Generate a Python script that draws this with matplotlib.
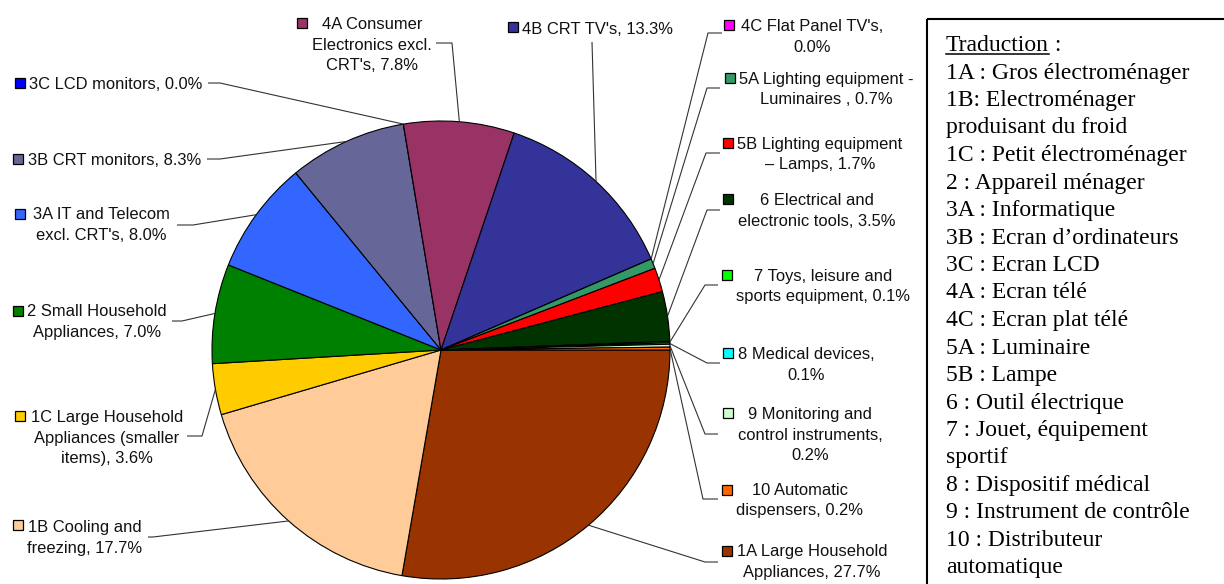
import matplotlib
matplotlib.use("Agg")
import matplotlib.pyplot as plt
import numpy as np
from matplotlib.patches import Rectangle

# --- data ---
codes = ["1A", "1B", "1C", "2", "3A", "3B", "3C", "4A", "4B", "4C",
         "5A", "5B", "6", "7", "8", "9", "10"]
names = ["Large Household\nAppliances", "Cooling and\nfreezing",
         "Large Household\nAppliances (smaller\nitems)", "Small Household\nAppliances",
         "IT and Telecom\nexcl. CRT's", "CRT monitors", "LCD monitors",
         "Consumer\nElectronics excl.\nCRT's", "CRT TV's", "Flat Panel TV's",
         "Lighting equipment -\nLuminaires ", "Lighting equipment\n\u2013 Lamps",
         "Electrical and\nelectronic tools", "Toys, leisure and\nsports equipment",
         "Medical devices", "Monitoring and\ncontrol instruments",
         "Automatic\ndispensers"]
shares = [27.7, 17.7, 3.6, 7.0, 8.0, 8.3, 0.0, 7.8, 13.3, 0.0,
          0.7, 1.7, 3.5, 0.1, 0.1, 0.2, 0.2]
colors = ["#993300", "#FFCC99", "#FFCC00", "#008000", "#3366FF", "#666699",
          "#0000FF", "#993366", "#333399", "#FF00FF", "#339966", "#FF0000",
          "#003300", "#00FF00", "#00FFFF", "#CCFFCC", "#FF6600"]

translation = [
    "1A : Gros électroménager", "1B: Electroménager", "produisant du froid",
    "1C : Petit électroménager", "2 : Appareil ménager", "3A : Informatique",
    "3B : Ecran d\u2019ordinateurs", "3C : Ecran LCD", "4A : Ecran télé",
    "4C : Ecran plat télé", "5A : Luminaire", "5B : Lampe",
    "6 : Outil électrique", "7 : Jouet, équipement", "sportif",
    "8 : Dispositif médical", "9 : Instrument de contrôle",
    "10 : Distributeur", "automatique",
]

# --- layout (pixel positions of label blocks, in category order) ---
value_sep = [", "] * 9 + [",\n"] + [", "] * 4 + [",\n", ",\n", ", "]
text_cx = [812, 85, 107, 97, 101, 115, 116, 372, 598, 812, 826, 820, 817, 823, 806, 810, 800]
text_y0 = [550, 526, 416, 310, 213, 159, 83, 23, 28, 25, 78, 143, 199, 275, 353, 413, 489]
square_xy = [(727, 551), (18, 525), (20, 416), (18, 311), (20, 214), (18, 159),
             (20, 83), (302, 23), (513, 27), (729, 25), (730, 78), (728, 143),
             (728, 199), (727, 275), (728, 353), (728, 413), (727, 490)]
elbow_xy = [(705, 562), (153, 537), (202, 436), (182, 321), (193, 225), (220, 159),
            (220, 83), (452, 43), None, (708, 33), (707, 88), (706, 153),
            (707, 210), (705, 285), (707, 363), (705, 434), (703, 499)]
end_xy = [(718, 562), (148, 537), (187, 436), (172, 321), (177, 225), (207, 159),
          (208, 83), (436, 43), (592, 42), (722, 33), (720, 88), (720, 153),
          (720, 210), (718, 285), (720, 363), (718, 434), (718, 499)]

W, H = 1224, 584
cx, cy, R = 441, 350, 229
line_h = 20.5

fig = plt.figure(figsize=(W / 100, H / 100), dpi=100)
ax = fig.add_axes([0, 0, 1, 1])

wedges, _ = ax.pie(shares, colors=colors, startangle=0, counterclock=True,
                   center=(cx, cy), radius=R,
                   wedgeprops=dict(edgecolor="black", linewidth=0.8))
ax.set_xlim(0, W)
ax.set_ylim(H, 0)
ax.set_aspect("equal")
ax.axis("off")

sans = "Liberation Sans"
for i, w in enumerate(wedges):
    # leader line from slice edge at mid angle
    mid = np.deg2rad((w.theta1 + w.theta2) / 2)
    ex, ey = cx + R * np.cos(mid), cy + R * np.sin(mid)
    pts = [(ex, ey)]
    if elbow_xy[i] is not None:
        pts.append(elbow_xy[i])
    pts.append(end_xy[i])
    xs, ys = zip(*pts)
    ax.plot(xs, ys, color="#333333", lw=0.8, solid_capstyle="butt")

    sx, sy = square_xy[i]
    ax.plot(sx, sy, marker="s", ms=7, mfc=colors[i], mec="black", mew=0.9)

    label = f"{codes[i]} {names[i]}{value_sep[i]}{shares[i]:.1f}%"
    for k, line in enumerate(label.split("\n")):
        ax.text(text_cx[i], text_y0[i] + k * line_h + 6, line, ha="center",
                va="baseline", fontsize=11.9, family=sans, color="#111111")

# translation box
ax.add_patch(Rectangle((927, 19), 320, 600, fill=False, edgecolor="black",
                       lw=1.5, clip_on=True))
serif = "Liberation Serif"
tx, ty0, row_h = 946, 51, 27.5
t = ax.text(tx, ty0, "Traduction", fontsize=17, family=serif, va="baseline")
renderer = fig.canvas.get_renderer()
bb = t.get_window_extent(renderer)
ax.text(bb.x1, ty0, " :", fontsize=17, family=serif, va="baseline")
ax.plot([bb.x0, bb.x1], [ty0 + 3, ty0 + 3], color="black", lw=1.1)
for k, line in enumerate(translation):
    ax.text(tx, ty0 + (k + 1) * row_h, line, fontsize=17, family=serif,
            va="baseline")

fig.savefig("out.png", dpi=100)
